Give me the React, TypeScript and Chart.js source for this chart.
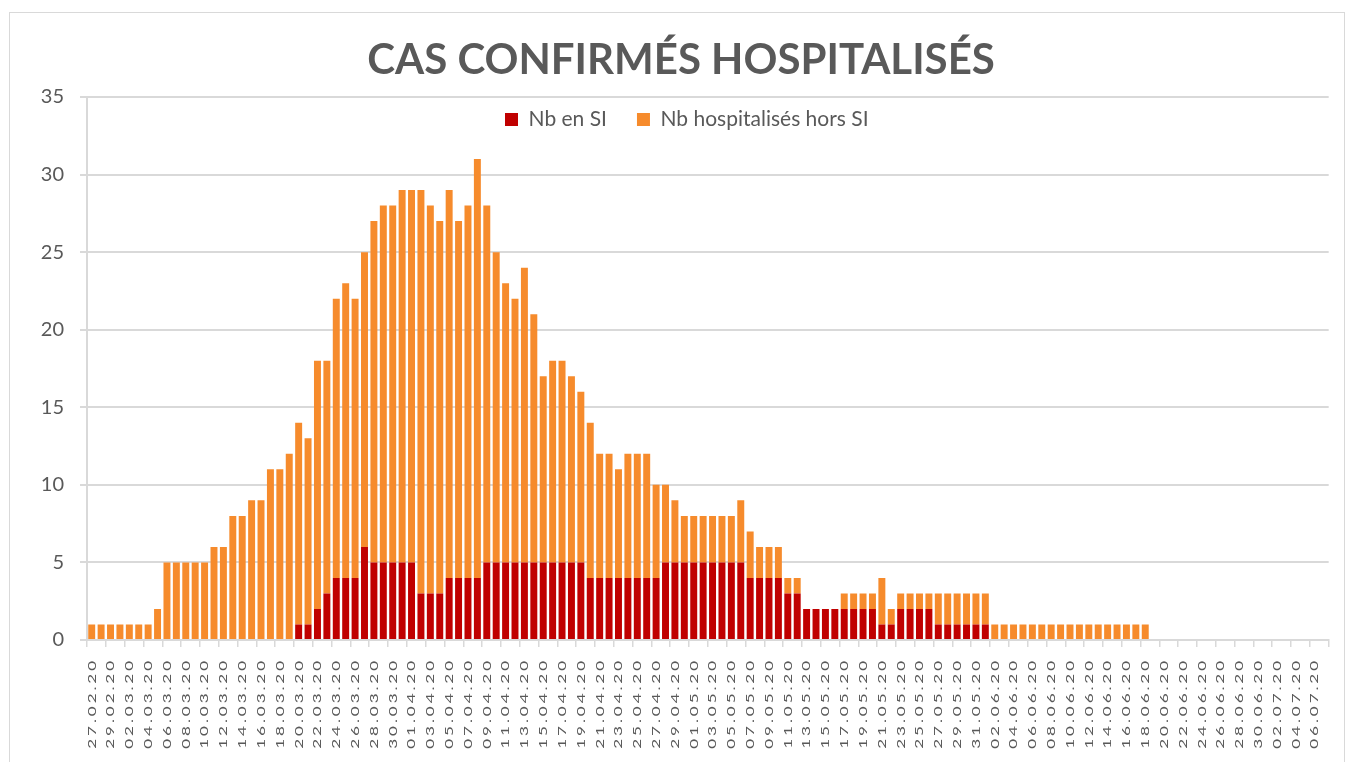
import React, { useEffect, useRef } from 'react';
import { Chart, registerables } from 'chart.js';

Chart.register(...registerables);

const dates: string[] = [
  '27.02.20', '28.02.20', '29.02.20',
  '01.03.20', '02.03.20', '03.03.20', '04.03.20', '05.03.20', '06.03.20', '07.03.20', '08.03.20', '09.03.20', '10.03.20',
  '11.03.20', '12.03.20', '13.03.20', '14.03.20', '15.03.20', '16.03.20', '17.03.20', '18.03.20', '19.03.20', '20.03.20',
  '21.03.20', '22.03.20', '23.03.20', '24.03.20', '25.03.20', '26.03.20', '27.03.20', '28.03.20', '29.03.20', '30.03.20', '31.03.20',
  '01.04.20', '02.04.20', '03.04.20', '04.04.20', '05.04.20', '06.04.20', '07.04.20', '08.04.20', '09.04.20', '10.04.20',
  '11.04.20', '12.04.20', '13.04.20', '14.04.20', '15.04.20', '16.04.20', '17.04.20', '18.04.20', '19.04.20', '20.04.20',
  '21.04.20', '22.04.20', '23.04.20', '24.04.20', '25.04.20', '26.04.20', '27.04.20', '28.04.20', '29.04.20', '30.04.20',
  '01.05.20', '02.05.20', '03.05.20', '04.05.20', '05.05.20', '06.05.20', '07.05.20', '08.05.20', '09.05.20', '10.05.20',
  '11.05.20', '12.05.20', '13.05.20', '14.05.20', '15.05.20', '16.05.20', '17.05.20', '18.05.20', '19.05.20', '20.05.20',
  '21.05.20', '22.05.20', '23.05.20', '24.05.20', '25.05.20', '26.05.20', '27.05.20', '28.05.20', '29.05.20', '30.05.20', '31.05.20',
  '01.06.20', '02.06.20', '03.06.20', '04.06.20', '05.06.20', '06.06.20', '07.06.20', '08.06.20', '09.06.20', '10.06.20',
  '11.06.20', '12.06.20', '13.06.20', '14.06.20', '15.06.20', '16.06.20', '17.06.20', '18.06.20', '19.06.20', '20.06.20',
  '21.06.20', '22.06.20', '23.06.20', '24.06.20', '25.06.20', '26.06.20', '27.06.20', '28.06.20', '29.06.20', '30.06.20',
  '01.07.20', '02.07.20', '03.07.20', '04.07.20', '05.07.20', '06.07.20', '07.07.20',
];

// Nb en SI (soins intensifs)
const nbSI: number[] = [
  0, 0, 0, 0, 0, 0, 0, 0, 0, 0, 0, 0, 0, 0, 0, 0, 0, 0, 0, 0, 0, 0,
  1, 1, 2, 3, 4, 4, 4, 6,
  5, 5, 5, 5, 5,
  3, 3, 3,
  4, 4, 4, 4,
  5, 5, 5, 5, 5, 5, 5, 5, 5, 5, 5,
  4, 4, 4, 4, 4, 4, 4, 4,
  5, 5, 5, 5, 5, 5, 5, 5, 5,
  4, 4, 4, 4,
  3, 3,
  2, 2, 2, 2, 2, 2, 2, 2,
  1, 1,
  2, 2, 2, 2,
  1, 1, 1, 1, 1, 1,
  0, 0, 0, 0, 0, 0, 0, 0, 0, 0, 0, 0, 0, 0, 0, 0, 0, 0,
  0, 0, 0, 0, 0, 0, 0, 0, 0, 0, 0, 0, 0, 0, 0, 0, 0, 0,
];

// Nb hospitalisés hors SI
const nbHorsSI: number[] = [
  1, 1, 1, 1, 1, 1, 1,
  2,
  5, 5, 5, 5, 5,
  6, 6,
  8, 8,
  9, 9,
  11, 11,
  12,
  13, 12, 16, 15, 18, 19, 18, 19,
  22, 23, 23, 24, 24,
  26, 25, 24,
  25, 23, 24, 27,
  23, 20, 18, 17, 19, 16, 12, 13, 13, 12, 11,
  10, 8, 8, 7, 8, 8, 8, 6,
  5, 4, 3, 3, 3, 3, 3, 3, 4,
  3, 2, 2, 2,
  1, 1,
  0, 0, 0, 0, 1, 1, 1, 1,
  3, 1,
  1, 1, 1, 1,
  2, 2, 2, 2, 2, 2,
  1, 1, 1, 1, 1, 1, 1, 1, 1, 1, 1, 1, 1, 1, 1, 1, 1,
  0, 0, 0, 0, 0, 0, 0, 0, 0, 0, 0, 0, 0, 0, 0, 0, 0, 0, 0,
];

const seriesNames = ['Nb en SI', 'Nb hospitalisés hors SI'];
const titleText = 'CAS CONFIRMÉS HOSPITALISÉS';

const TEXT = '#595959';
const GRID = '#d9d9d9';
const LEGEND_PAD = 30;

const customLayout = {
  id: 'customLayout',
  beforeUpdate(chart: any) {
    if (chart.legend) chart.legend.isHorizontal = () => true;
  },
  afterLayout(chart: any) {
    const lg = chart.legend;
    if (lg) {
      lg.left = 495 - LEGEND_PAD;
      lg.right = lg.left + 800;
      lg.width = 800;
      lg.top = 96 - LEGEND_PAD;
      lg.bottom = lg.top + 120;
    }
    const tb = chart.titleBlock;
    if (tb) {
      tb.left += 7;
      tb.right += 7;
    }
  },
  beforeDraw(chart: any) {
    const sc = chart.scales.x;
    if (sc && !sc.__patched) {
      const orig = sc.drawLabels.bind(sc);
      sc.drawLabels = (area: any) => {
        const ctx = chart.ctx;
        const t = sc.top;
        ctx.save();
        ctx.letterSpacing = '2px';
        ctx.translate(0, t);
        ctx.scale(1, 1.43);
        ctx.translate(0, -t);
        orig(area);
        ctx.restore();
      };
      sc.__patched = true;
    }
  },
};

export default function App() {
  const ref = useRef<HTMLCanvasElement>(null);

  useEffect(() => {
    if (!ref.current) return;
    const chart = new Chart(ref.current, {
      type: 'bar',
      data: {
        labels: dates,
        datasets: [
          {
            label: seriesNames[0],
            data: nbSI,
            backgroundColor: '#c00000',
            borderWidth: 0,
            stack: 's',
          },
          {
            label: seriesNames[1],
            data: nbHorsSI,
            backgroundColor: '#f68b2c',
            borderWidth: 0,
            stack: 's',
          },
        ],
      },
      plugins: [customLayout],
      options: {
        animation: false,
        responsive: false,
        layout: { padding: { left: 0, right: 6, top: 0, bottom: 0 } },
        datasets: {
          bar: { categoryPercentage: 1, barPercentage: 0.74 },
        },
        plugins: {
          tooltip: { enabled: false },
          title: {
            display: true,
            text: titleText,
            color: TEXT,
            font: { family: 'Lato', size: 42, weight: 'bold', lineHeight: 1.2 },
            padding: { top: 22, bottom: 11.6 },
          },
          legend: {
            position: 'chartArea' as any,
            align: 'start',
            labels: {
              color: TEXT,
              font: { family: 'Lato', size: 21 },
              boxWidth: 13,
              boxHeight: 13,
              padding: LEGEND_PAD,
            },
          },
        },
        scales: {
          x: {
            stacked: true,
            offset: true,
            grid: {
              offset: true,
              drawOnChartArea: false,
              drawTicks: true,
              tickLength: 7,
              lineWidth: 1.5,
              color: (c: any) => (c.index === undefined || c.index % 2 === 0 ? GRID : 'rgba(0,0,0,0)'),
            },
            border: { display: true, color: GRID, width: 2 },
            ticks: {
              autoSkip: false,
              maxRotation: 90,
              minRotation: 90,
              padding: 5.6,
              color: TEXT,
              font: { family: 'Lato', size: 12 },
              callback: (_v: any, i: number) => (i % 2 === 0 ? dates[i] : ''),
            },
            afterFit: (s: any) => {
              s.height = 122;
            },
          },
          y: {
            stacked: true,
            min: 0,
            max: 35,
            grid: {
              color: GRID,
              lineWidth: 2,
              drawTicks: true,
              tickLength: 7,
            },
            border: { display: true, color: GRID, width: 2 },
            ticks: {
              stepSize: 5,
              padding: 16,
              color: TEXT,
              font: { family: 'Lato', size: 20 },
            },
            afterFit: (s: any) => {
              s.width = 77;
            },
          },
        },
      },
    });
    return () => chart.destroy();
  }, []);

  return (
    <div
      style={{
        position: 'absolute',
        left: 9,
        top: 12,
        width: 1336,
        height: 760,
        border: '1px solid #d9d9d9',
        boxSizing: 'border-box',
        background: '#ffffff',
      }}
    >
      <canvas ref={ref} width={1334} height={749} style={{ display: 'block' }} />
    </div>
  );
}
